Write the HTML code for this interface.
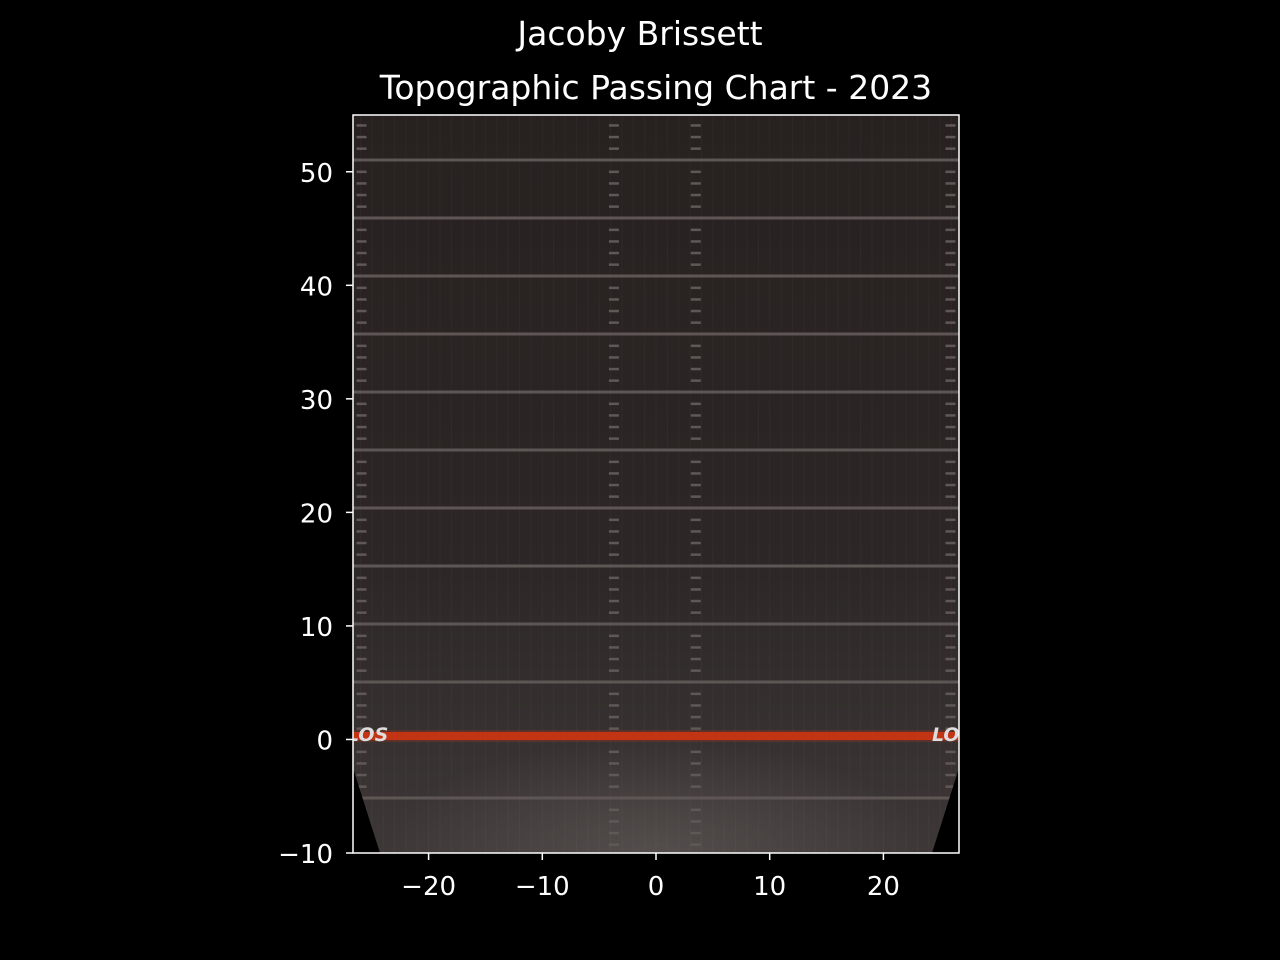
<!DOCTYPE html>
<html><head><meta charset="utf-8"><style>
body{margin:0;background:#000;}
svg{display:block;font-family:"DejaVu Sans","Liberation Sans",sans-serif;}
</style></head><body>
<svg id="chart" width="1280" height="960">
<defs>
<linearGradient id="fieldGrad" x1="0" y1="0" x2="0" y2="1">
<stop offset="0" stop-color="#272120"/><stop offset="0.6" stop-color="#2c2726"/><stop offset="1" stop-color="#3d3837"/>
</linearGradient>
<radialGradient id="glow" cx="0.5" cy="1" r="0.45">
<stop offset="0" stop-color="#6a6361" stop-opacity="0.5"/><stop offset="1" stop-color="#6a6361" stop-opacity="0"/>
</radialGradient>
<clipPath id="clip"><rect x="353" y="115" width="606" height="738"/></clipPath>
</defs>
<text x="640" y="45" fill="#fff" font-size="33" text-anchor="middle">Jacoby Brissett</text>
<text x="656" y="99" fill="#fff" font-size="33" text-anchor="middle">Topographic Passing Chart - 2023</text>
<g id="field" clip-path="url(#clip)">
<rect x="353" y="115" width="606" height="738" fill="url(#fieldGrad)"/>
<rect x="353" y="600" width="606" height="253" fill="url(#glow)"/>
</g>
<g id="axes"></g>
</svg>
<script>
const xTicks=[-20,-10,0,10,20];
const yTicks=[-10,0,10,20,30,40,50];
const yardLines=[-5,5,10,15,20,25,30,35,40,45,50];
const hashX=[-25.9,-3.7,3.5,25.9];
const losYard=[0];
const xMin=-26.65,xMax=26.65,yMin=-10,yMax=55;
const L=353,R=959,T=115,B=853;
const sx=v=>L+(v-xMin)/(xMax-xMin)*(R-L);
const sy=v=>B-(v-yMin)/(yMax-yMin)*(B-T);
const imgY=v=>740-v*11.6;
const NS='http://www.w3.org/2000/svg';
function mk(t,a,p){const e=document.createElementNS(NS,t);for(const k in a)e.setAttribute(k,a[k]);p.appendChild(e);return e;}
const field=document.getElementById('field');
for(let x=-26;x<=26;x+=1){mk('line',{x1:sx(x),x2:sx(x),y1:T,y2:B,stroke:'#ffffff','stroke-opacity':0.03},field);}
yardLines.forEach(y=>{const l=mk('line',{x1:L,x2:R,y1:imgY(y),y2:imgY(y),stroke:'#5e5654','stroke-width':3},field);

});
hashX.forEach(hx=>{for(let y=-9;y<=54;y++){if(y%5===0)continue;const h=mk('rect',{x:sx(hx)-5,y:imgY(y)-1,width:10,height:2.5,fill:'#5f5856'},field);

}});
losYard.forEach(y=>{const r=mk('rect',{x:L,y:imgY(y)-8,width:R-L,height:8,fill:'#c23414'},field);


mk('rect',{x:L,y:imgY(y)-10,width:R-L,height:12,fill:'#c23414',opacity:0.25},field);
const t1=mk('text',{x:L-6,y:imgY(y)+1,fill:'#ddd','font-size':19,'font-style':'italic','font-weight':'bold'},field);t1.textContent='LOS';


const t2=mk('text',{x:R-27,y:imgY(y)+1,fill:'#ddd','font-size':19,'font-style':'italic','font-weight':'bold'},field);t2.textContent='LOS';

});
mk('polygon',{points:`${L},768 ${L},${B} 380,${B}`,fill:'#000'},field);
mk('polygon',{points:`${R},768 ${R},${B} 932,${B}`,fill:'#000'},field);
const ax=document.getElementById('axes');
const fr=mk('rect',{x:L,y:T,width:R-L,height:B-T,fill:'none',stroke:'#fff','stroke-width':1.5},ax);


xTicks.forEach(v=>{const x=sx(v);mk('line',{x1:x,x2:x,y1:B,y2:B+7,stroke:'#fff','stroke-width':1.5},ax);
const t=mk('text',{x:x,y:B+42,fill:'#fff','font-size':26,'text-anchor':'middle'},ax);t.textContent=(v<0?'\u2212'+(-v):v);

});
yTicks.forEach(v=>{const y=sy(v);mk('line',{x1:L-7,x2:L,y1:y,y2:y,stroke:'#fff','stroke-width':1.5},ax);
const t=mk('text',{x:L-20,y:y+10,fill:'#fff','font-size':26,'text-anchor':'end'},ax);t.textContent=(v<0?'\u2212'+(-v):v);

});
</script>
</body></html>
